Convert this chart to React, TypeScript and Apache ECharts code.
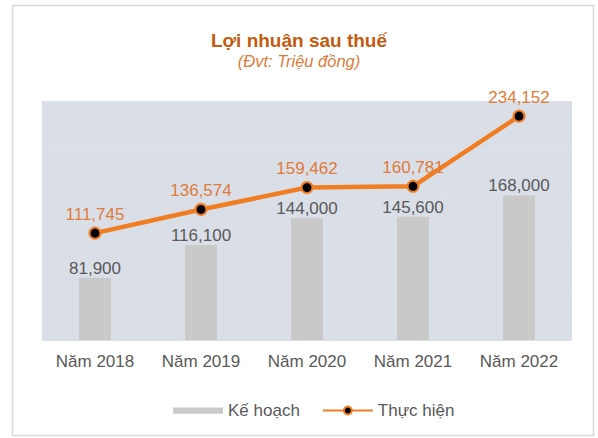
import React, { useEffect, useRef } from "react";
import * as echarts from "echarts";

const categories = ["Năm 2018", "Năm 2019", "Năm 2020", "Năm 2021", "Năm 2022"];
const keHoach = [81900, 116100, 144000, 145600, 168000];
const thucHien = [111745, 136574, 159462, 160781, 234152];

const FONT = "'Liberation Sans', Arial, sans-serif";
const fmt = (v: number) => v.toLocaleString("en-US");

export default function App() {
  const ref = useRef<HTMLDivElement>(null);
  useEffect(() => {
    const chart = echarts.init(ref.current!, null, { renderer: "svg" });
    chart.setOption({
      animation: false,
      backgroundColor: "#ffffff",
      textStyle: { fontFamily: FONT },
      graphic: [
        {
          type: "rect",
          shape: { x: 12.5, y: 5.5, width: 581, height: 430 },
          style: { fill: "none", stroke: "#d9d9d9", lineWidth: 1.5 },
          z: 0,
        },
      ],
      title: {
        text: "Lợi nhuận sau thuế",
        subtext: "(Đvt: Triệu đồng)",
        left: "center",
        top: 26,
        itemGap: 2,
        textStyle: { fontFamily: FONT, fontSize: 19, fontWeight: "bold", color: "#c55a11" },
        subtextStyle: { fontFamily: FONT, fontSize: 16.5, fontStyle: "italic", color: "#e07b39" },
      },
      legend: {
        left: 168,
        top: 397,
        itemWidth: 50,
        itemHeight: 10,
        itemGap: 22,
        textStyle: { fontFamily: FONT, fontSize: 17, color: "#595959" },
        data: [
          { name: "Kế hoạch", icon: "path://M0,2 L48,2 L48,8 L0,8 Z" },
          { name: "Thực hiện" },
        ],
      },
      grid: {
        left: 42,
        right: 26,
        top: 101,
        bottom: 98,
        show: true,
        backgroundColor: "#d9dee7",
        borderWidth: 0,
      },
      xAxis: {
        type: "category",
        data: categories,
        axisLine: { show: false },
        axisTick: { show: false },
        axisLabel: { fontFamily: FONT, fontSize: 17, color: "#595959", margin: 13 },
      },
      yAxis: {
        type: "value",
        min: 0,
        max: 250000,
        interval: 50000,
        axisLabel: { show: false },
        axisLine: { show: false },
        axisTick: { show: false },
        splitLine: { show: true, lineStyle: { color: "#dde1e9", width: 1 } },
      },
      series: [
        {
          name: "Kế hoạch",
          type: "bar",
          data: keHoach,
          barWidth: 32,
          itemStyle: { color: "#c9c9c9" },
          label: {
            show: true,
            position: "insideTop",
            distance: 0,
            offset: [0, -3],
            formatter: (p: any) => fmt(p.value),
            fontFamily: FONT,
            fontSize: 17,
            color: "#595959",
            backgroundColor: "#d9dee7",
            padding: [1, 2],
          },
          z: 2,
        },
        {
          name: "Thực hiện",
          type: "line",
          data: thucHien,
          symbol: "circle",
          symbolSize: 11,
          lineStyle: { color: "#f07d22", width: 4.5 },
          itemStyle: { color: "#000000", borderColor: "#f07d22", borderWidth: 2 },
          label: {
            show: true,
            position: "top",
            distance: 4,
            formatter: (p: any) => fmt(p.value),
            fontFamily: FONT,
            fontSize: 17,
            color: "#e07b39",
          },
          z: 3,
        },
      ],
    });
    return () => chart.dispose();
  }, []);
  return (
    <div
      ref={ref}
      style={{ position: "fixed", left: 0, top: 0, width: 598, height: 438 }}
    />
  );
}
